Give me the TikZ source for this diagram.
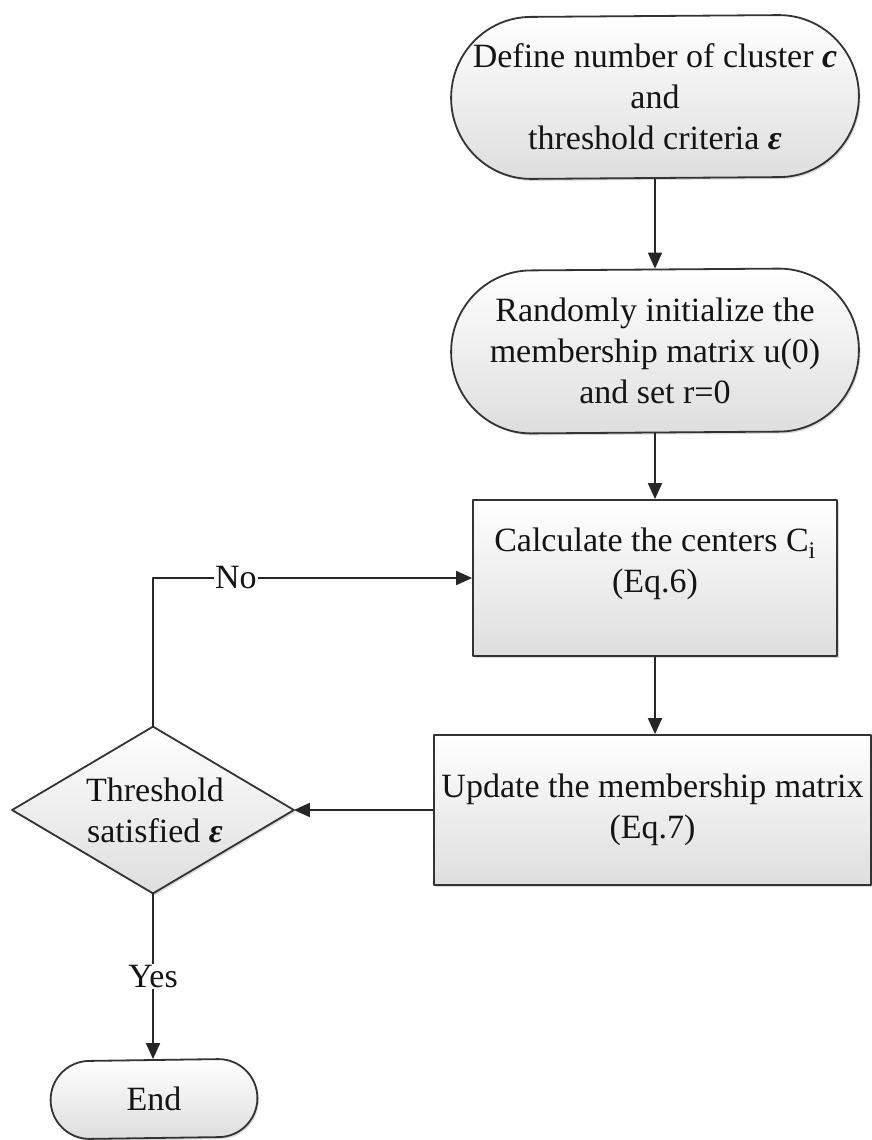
\documentclass[tikz,border=0pt]{standalone}
\usepackage{fontspec}
\setmainfont{Liberation Serif}
\usetikzlibrary{arrows.meta,shadows}
\newcommand{\stadiumoutline}[3]{%
  \path[shapefill] ([xshift=#2]#1.south west)
    arc[start angle=270,end angle=90,x radius=#2,y radius=#3]
    -- ([xshift=-#2]#1.north east)
    arc[start angle=90,end angle=-90,x radius=#2,y radius=#3]
    -- cycle;}
\begin{document}
\begin{tikzpicture}[x=1pt,y=1pt,line width=1.8pt,line join=round,
  every node/.style={font=\fontsize{34}{41}\selectfont,align=center,inner sep=0pt,text=black!92},
  shapefill/.style={draw=black!80,top color=white,bottom color=black!13,
    drop shadow={shadow xshift=1.5pt,shadow yshift=-2pt,opacity=0.3}},
  holder/.style={rectangle,draw=none},
  boxnode/.style={rectangle,shapefill},
  arr/.style={draw=black!85,-{Triangle[length=16pt,width=14pt]}},
  lbl/.style={fill=white,inner sep=1pt}]
\useasboundingbox (0,0) rectangle (872,-1140);

% nodes (shapes)
\node[holder,minimum width=406pt,minimum height=162pt] (def) at (655,-97) {};
\stadiumoutline{def}{80pt}{81pt}
\node at (def.center) {Define number of cluster \textbf{\textit{c}}\\and\\threshold criteria \textbf{\textit{ε}}};

\node[holder,minimum width=406pt,minimum height=163pt] (rand) at (655,-351) {};
\stadiumoutline{rand}{80pt}{81.5pt}
\node at (rand.center) {Randomly initialize the\\membership matrix u(0)\\and set r=0};

\node[boxnode,minimum width=364pt,minimum height=156pt] (calc) at (655,-578) {};
\node[anchor=center] (calctxt) at ([yshift=14pt]calc.center) {Calculate the centers C\textsubscript{i}\\(Eq.6)};

\node[boxnode,minimum width=437pt,minimum height=150pt] (upd) at (652.5,-810) {};
\node at (upd.center) {Update the membership matrix\\(Eq.7)};

\node[holder,minimum width=280pt,minimum height=165pt] (thr) at (153,-810) {};
\path[shapefill] (thr.north) -- (thr.east) -- (thr.south) -- (thr.west) -- cycle;
\node at ([xshift=2pt]thr.center) {Threshold\\satisfied \textbf{\textit{ε}}};

\node[holder,minimum width=205pt,minimum height=78pt] (end) at (154,-1099) {};
\stadiumoutline{end}{39pt}{39pt}
\node at (end.center) {End};

% connectors
\draw[arr] (def.south) -- (rand.north);
\draw[arr] (rand.south) -- (calc.north);
\draw[arr] (calc.south) -- (calc.south |- upd.north);
\draw[arr] (upd.west) -- (thr.east);
\draw[arr] (thr.north) |- (calc.west) node[lbl,pos=0.63] {No};
\draw[arr] (thr.south) -- (thr.south |- end.north) node[lbl,pos=0.5] {Yes};
\end{tikzpicture}
\end{document}
